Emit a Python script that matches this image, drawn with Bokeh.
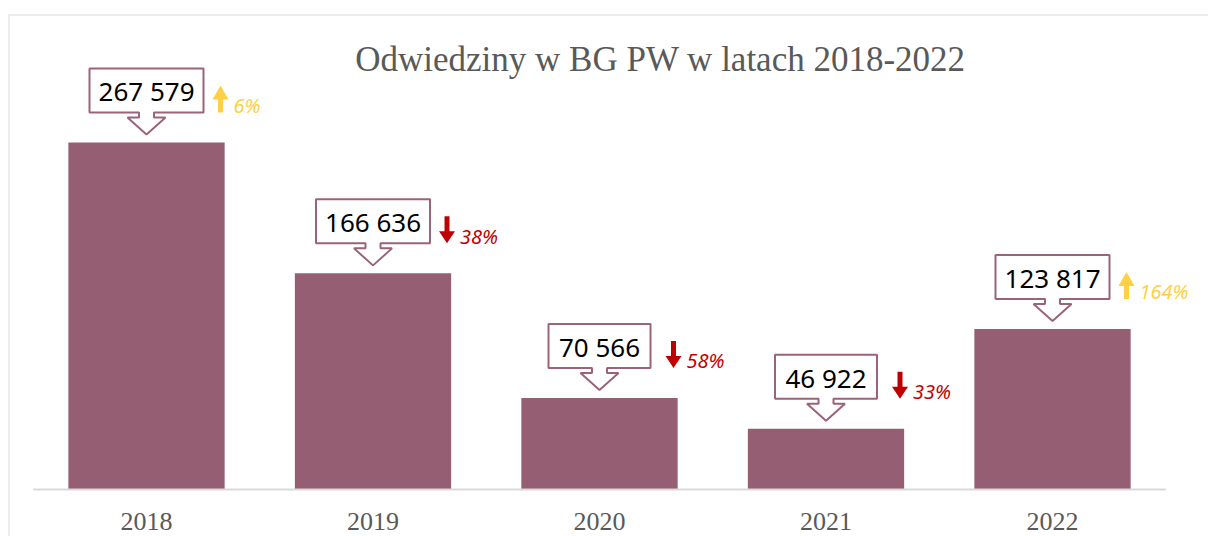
from bokeh.plotting import figure
from bokeh.models import Range1d, Span, ColumnDataSource
from bokeh.core.properties import value
from bokeh.embed import file_html
from bokeh.resources import INLINE

# ---- data ----
years = [2018, 2019, 2020, 2021, 2022]
visits = [267579, 166636, 70566, 46922, 123817]
visit_labels = ["267 579", "166 636", "70 566", "46 922", "123 817"]
change_pct = [6, -38, -58, -33, 164]
change_labels = ["6%", "38%", "58%", "33%", "164%"]
title_text = "Odwiedziny w BG PW w latach 2018-2022"

# ---- styles ----
BAR = "#955E73"
BOX_LINE = "#9A6378"
UP = "#FFD045"
DOWN = "#C00000"
GRAY_TXT = "#595959"
BORDER = "#D9D9D9"

W, H = 1208, 536
ML, MT = 8, 14
FW, FH = W - ML, H - MT

XS = 2017.3907
XE = XS + FW / 226.5
PXY = 771.0
YS = -47 * PXY
YE = YS + FH * PXY
PXX = (XE - XS) / FW

p = figure(width=W, height=H, output_backend="svg", toolbar_location=None,
           x_range=Range1d(XS, XE), y_range=Range1d(YS, YE),
           x_axis_type=None, y_axis_type=None,
           min_border_left=ML, min_border_top=MT, min_border_right=0, min_border_bottom=0)
p.outline_line_color = None
p.background_fill_color = "white"
p.border_fill_color = "white"
p.grid.visible = False

# container border (top + left)
p.add_layout(Span(location=YE, dimension="width", line_color=BORDER, line_width=2))
p.add_layout(Span(location=XS, dimension="height", line_color=BORDER, line_width=2))

# bars
src = ColumnDataSource(dict(x=years, top=visits))
p.vbar(x="x", top="top", bottom=0, width=0.69, source=src, fill_color=BAR, line_color=None)

# baseline
p.segment(x0=[years[0] - 0.5], x1=[years[-1] + 0.5], y0=[0], y1=[0], line_color=BORDER, line_width=2)

# year labels
p.text(x=years, y=[0] * len(years), text=[str(y) for y in years], y_offset=32,
       text_align="center", text_baseline="middle",
       text_font=value("Liberation Serif"), text_font_size="26px", text_color=GRAY_TXT)

# callouts
cxs, cys = [], []
for yr, v, lab in zip(years, visits, visit_labels):
    hw = (12 * len(lab) + 30) / 2
    pts = [(0, 8), (19, 25), (7.5, 25), (7.5, 30), (hw, 30), (hw, 74), (-hw, 74),
           (-hw, 30), (-7.5, 30), (-7.5, 25), (-19, 25)]
    cxs.append([yr + dx * PXX for dx, dy in pts])
    cys.append([v + dy * PXY for dx, dy in pts])
p.patches(xs=cxs, ys=cys, fill_color="white", line_color=BOX_LINE, line_width=2)

p.text(x=years, y=visits, text=visit_labels, y_offset=-51,
       text_align="center", text_baseline="middle",
       text_font=value("Noto Sans"), text_font_size="26px", text_color="black")

# change arrows
axs, ays, acol = [], [], []
for yr, v, c in zip(years, visits, change_pct):
    cx = yr + 74 * PXX
    if c >= 0:
        pts = [(-2.5, 30), (2.5, 30), (2.5, 43), (8, 43), (0, 57), (-8, 43), (-2.5, 43)]
        acol.append(UP)
    else:
        pts = [(0, 30), (8, 42), (2.5, 42), (2.5, 57), (-2.5, 57), (-2.5, 42), (-8, 42)]
        acol.append(DOWN)
    axs.append([cx + dx * PXX for dx, dy in pts])
    ays.append([v + dy * PXY for dx, dy in pts])
p.patches(xs=axs, ys=ays, fill_color=acol, line_color=None)

p.text(x=[yr + 87 * PXX for yr in years], y=visits, text=change_labels, y_offset=-37,
       text_align="left", text_baseline="middle",
       text_font=value("Noto Sans"), text_font_style="italic", text_font_size="20px",
       text_color=[UP if c >= 0 else DOWN for c in change_pct])

# title
p.text(x=[(XS + XE) / 2], y=[YE], text=[title_text], x_offset=52, y_offset=45,
       text_align="center", text_baseline="middle",
       text_font=value("Liberation Serif"), text_font_size="35px", text_color=GRAY_TXT)

open("out.html", "w").write(file_html(p, INLINE))
